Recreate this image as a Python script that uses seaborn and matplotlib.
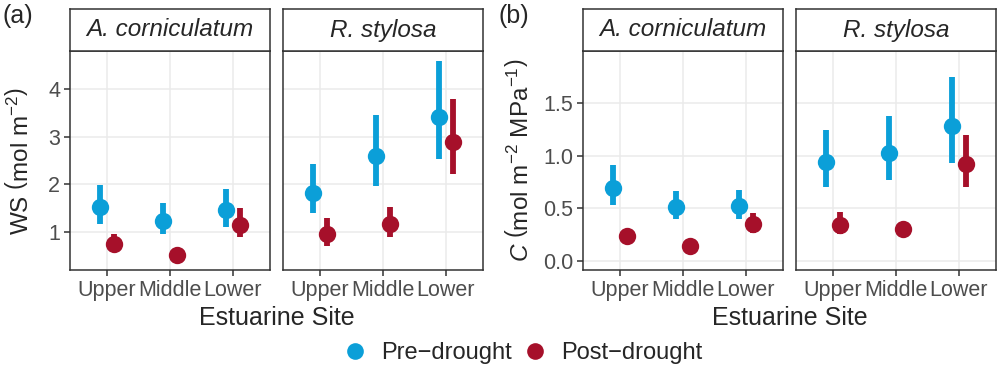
import pandas as pd
import matplotlib.pyplot as plt
from matplotlib.lines import Line2D
import seaborn as sns

sites = ["Upper", "Middle", "Lower"]
species = ["A. corniculatum", "R. stylosa"]
periods = ["Pre\u2212drought", "Post\u2212drought"]
colors = ["#0B9FD8", "#A6102A"]

# order: A. corniculatum (Upper, Middle, Lower), then R. stylosa (Upper, Middle, Lower)
ws_pre = [1.52, 1.24, 1.46, 1.83, 2.60, 3.41]
ws_pre_lo = [1.17, 0.96, 1.12, 1.40, 1.96, 2.53]
ws_pre_hi = [1.98, 1.62, 1.90, 2.42, 3.44, 4.57]
ws_post = [0.75, 0.52, 1.15, 0.96, 1.17, 2.89]
ws_post_lo = [0.62, 0.42, 0.90, 0.72, 0.90, 2.21]
ws_post_hi = [0.96, 0.60, 1.50, 1.29, 1.52, 3.78]

c_pre = [0.69, 0.51, 0.52, 0.94, 1.03, 1.28]
c_pre_lo = [0.53, 0.40, 0.40, 0.70, 0.77, 0.93]
c_pre_hi = [0.91, 0.67, 0.68, 1.25, 1.38, 1.75]
c_post = [0.24, 0.14, 0.35, 0.34, 0.30, 0.92]
c_post_lo = [0.19, 0.10, 0.27, 0.26, 0.25, 0.70]
c_post_hi = [0.29, 0.19, 0.46, 0.47, 0.35, 1.20]


def long_table(pre, pre_lo, pre_hi, post, post_lo, post_hi):
    # three rows per group (low, mean, high): median gives the point, min/max the bar
    rows = []
    groups = [(periods[0], pre, pre_lo, pre_hi), (periods[1], post, post_lo, post_hi)]
    for period, mean, lo, hi in groups:
        for i in range(6):
            for v in (lo[i], mean[i], hi[i]):
                rows.append({"species": species[i // 3], "site": sites[i % 3],
                             "period": period, "value": v})
    return pd.DataFrame(rows)


def main():
    sns.set_theme(style="white")
    plt.rcParams["font.family"] = ["Liberation Sans", "DejaVu Sans"]
    plt.rcParams["mathtext.fontset"] = "custom"
    plt.rcParams["mathtext.rm"] = "Liberation Sans"
    plt.rcParams["mathtext.it"] = "Liberation Sans:italic"

    W, H = 1000, 370
    fig = plt.figure(figsize=(10, 3.7), dpi=100)

    panels = [
        dict(df=long_table(ws_pre, ws_pre_lo, ws_pre_hi, ws_post, ws_post_lo, ws_post_hi),
             lefts=[70, 283], ylim=(0.215, 4.785), yticks=[1, 2, 3, 4], fmt="{:.0f}",
             ylabel=r"WS $\left(\mathrm{mol\ m^{-2}}\right)$", ylab_x=20, tag="(a)", tag_x=2),
        dict(df=long_table(c_pre, c_pre_lo, c_pre_hi, c_post, c_post_lo, c_post_hi),
             lefts=[583, 796], ylim=(-0.086, 1.998), yticks=[0.0, 0.5, 1.0, 1.5], fmt="{:.1f}",
             ylabel=r"$\mathit{C}\ \left(\mathrm{mol\ m^{-2}\ MPa^{-1}}\right)$", ylab_x=519,
             tag="(b)", tag_x=498),
    ]

    top, bottom, strip_top = 51, 270, 9
    width = 200
    for p in panels:
        for j, sp in enumerate(species):
            x0 = p["lefts"][j]
            ax = fig.add_axes([x0 / W, 1 - bottom / H, width / W, (bottom - top) / H])
            sns.pointplot(data=p["df"][p["df"]["species"] == sp], x="site", y="value",
                          hue="period", order=sites, hue_order=periods, palette=colors,
                          estimator="median", errorbar=lambda v: (v.min(), v.max()),
                          dodge=0.23, linestyle="none", markers="o", markersize=12.5,
                          markeredgewidth=0,
                          err_kws={"linewidth": 4.2, "solid_capstyle": "butt"},
                          legend=False, ax=ax)
            ax.set_xlim(-0.59, 2.59)
            ax.set_ylim(*p["ylim"])
            ax.set_yticks(p["yticks"])
            ax.set_yticklabels([p["fmt"].format(t) for t in p["yticks"]])
            ax.grid(True, color="#EBEBEB", linewidth=1.1)
            ax.set_axisbelow(True)
            ax.set_xlabel("")
            ax.set_ylabel("")
            for s in ax.spines.values():
                s.set_color("#333333")
                s.set_linewidth(1.1)
            ax.tick_params(axis="both", colors="#333333", labelcolor="#4D4D4D",
                           labelsize=15.5, length=4, width=1.1, pad=3,
                           bottom=True, left=(j == 0), labelleft=(j == 0))

            # facet strip
            sax = fig.add_axes([x0 / W, 1 - top / H, width / W, (top - strip_top) / H])
            sax.set_xticks([])
            sax.set_yticks([])
            sax.set_facecolor("white")
            for s in sax.spines.values():
                s.set_color("#333333")
                s.set_linewidth(1.1)
            sax.text(0.5, 0.5, sp, style="italic", fontsize=17.5, ha="center", va="center",
                     transform=sax.transAxes)

        fig.text(p["ylab_x"] / W, 1 - (top + bottom) / 2 / H, p["ylabel"], rotation=90,
                 ha="center", va="center", fontsize=17.5)
        xc = (p["lefts"][0] + p["lefts"][1] + width) / 2
        fig.text(xc / W, 1 - 318 / H, "Estuarine Site", ha="center", va="center", fontsize=18)
        fig.text(p["tag_x"] / W, 1 - 16 / H, p["tag"], ha="left", va="center", fontsize=18)

    handles = [Line2D([], [], linestyle="none", marker="o", markersize=12,
                      markeredgewidth=0, color=c) for c in colors]
    fig.legend(handles, periods, loc="center", bbox_to_anchor=(523 / W, 1 - 353 / H),
               ncol=2, frameon=False, fontsize=17, handlelength=1.0,
               handletextpad=0.6, columnspacing=0.5)

    fig.savefig("out.png", dpi=100)


if __name__ == "__main__": main()
